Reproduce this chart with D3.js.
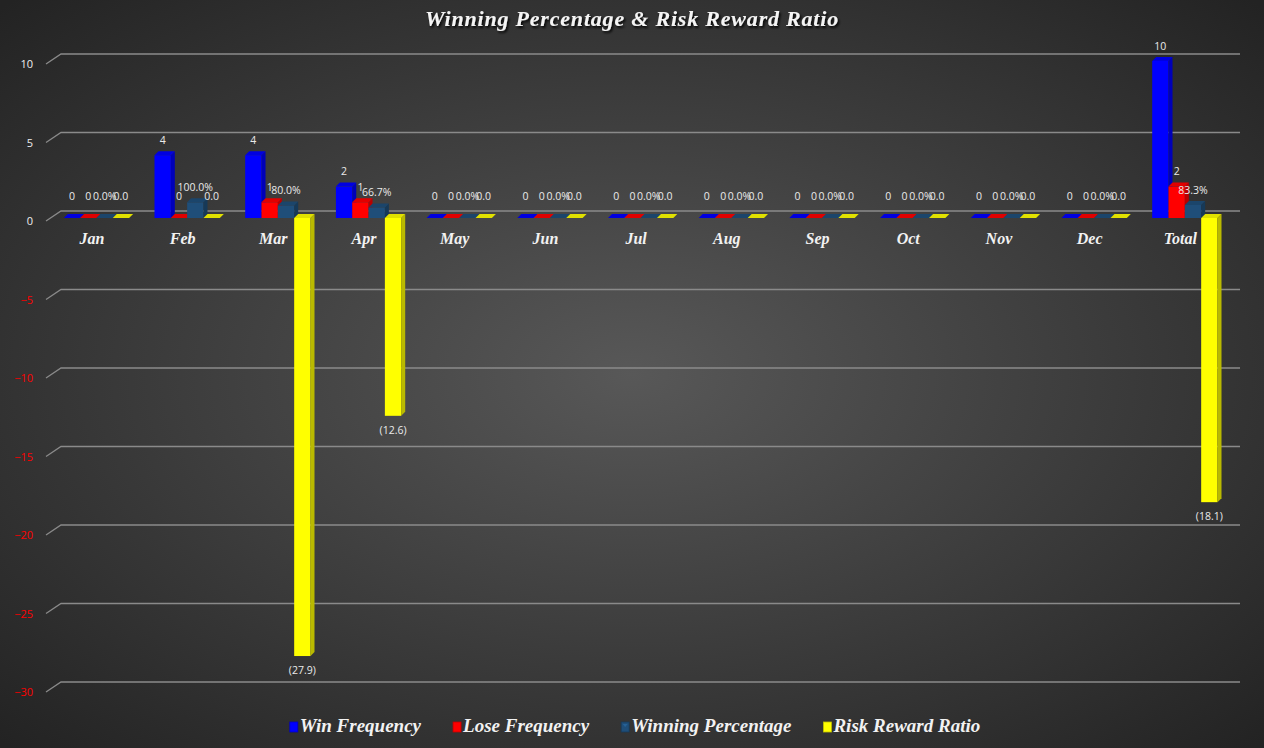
<!DOCTYPE html>
<html>
<head>
<meta charset="utf-8">
<script src="https://cdn.jsdelivr.net/npm/d3@7"></script>
<style>
  html, body { margin: 0; padding: 0; background: #2b2b2b; }
  svg { display: block; }
</style>
</head>
<body>
<div id="chart"></div>
<script>
// chart data
var categories = ["Jan", "Feb", "Mar", "Apr", "May", "Jun", "Jul", "Aug", "Sep", "Oct", "Nov", "Dec", "Total"];
var winFrequency = [0, 4, 4, 2, 0, 0, 0, 0, 0, 0, 0, 0, 10];
var loseFrequency = [0, 0, 1, 1, 0, 0, 0, 0, 0, 0, 0, 0, 2];
var winningPercentage = [0, 1.0, 0.8, 0.667, 0, 0, 0, 0, 0, 0, 0, 0, 0.833];
var riskRewardRatio = [0, 0, -27.9, -12.6, 0, 0, 0, 0, 0, 0, 0, 0, -18.1];
var seriesNames = ["Win Frequency", "Lose Frequency", "Winning Percentage", "Risk Reward Ratio"];
var yTicks = [-30, -25, -20, -15, -10, -5, 0, 5, 10];

var width = 1264, height = 748;

var series = [
    { name: seriesNames[0], values: winFrequency, color: "#0000ff", fmt: d3.format("d") },
    { name: seriesNames[1], values: loseFrequency, color: "#ff0000", fmt: d3.format("d") },
    { name: seriesNames[2], values: winningPercentage, color: "#1f4e79", fmt: d3.format(".1%") },
    { name: seriesNames[3], values: riskRewardRatio, color: "#ffff00",
      fmt: function (v) { return v < 0 ? "(" + Math.abs(v).toFixed(1) + ")" : v.toFixed(1); } }
];

var svg = d3.select("#chart").append("svg")
    .attr("width", width)
    .attr("height", height);

var defs = svg.append("defs");
var bg = defs.append("radialGradient")
    .attr("id", "bg")
    .attr("cx", "50%").attr("cy", "50%").attr("r", "70%");
bg.append("stop").attr("offset", "0%").attr("stop-color", "#585858");
bg.append("stop").attr("offset", "100%").attr("stop-color", "#232323");

var shadow = defs.append("filter").attr("id", "shadow")
    .attr("x", "-10%").attr("y", "-30%").attr("width", "120%").attr("height", "160%");
shadow.append("feDropShadow")
    .attr("dx", 1.5).attr("dy", 2).attr("stdDeviation", 1.2)
    .attr("flood-color", "#000").attr("flood-opacity", 0.9);

svg.append("rect")
    .attr("width", width)
    .attr("height", height)
    .attr("fill", "url(#bg)");

// 3d offsets
var floorDx = 15, floorDy = -10;   // front edge of floor -> back wall
var barDx = 4.5, barDy = -3;       // front edge of floor -> bar front face
var depthX = 4, depthY = -4;       // bar thickness

var x = d3.scaleBand()
    .domain(categories)
    .range([46.6, 1225.7])
    .paddingInner(0.28)
    .paddingOuter(0.14);

var x1 = d3.scaleBand()
    .domain(d3.range(series.length))
    .range([0, x.bandwidth()]);

// value scale on the floor front edge
var y = d3.scaleLinear()
    .domain([-30, 10])
    .range([221 + 30 * 15.7, 221 - 10 * 15.7]);

// gridlines on the back wall
svg.append("g")
    .selectAll("path")
    .data(yTicks)
    .join("path")
    .attr("fill", "none")
    .attr("stroke", "#8a8a8a")
    .attr("stroke-width", 1.3)
    .attr("d", function (t) {
        var yy = y(t);
        return "M46," + yy + "L" + (46 + floorDx) + "," + (yy + floorDy) + "L1240," + (yy + floorDy);
    });

// y axis labels
var yAxis = svg.append("g")
    .attr("transform", "translate(37,0)")
    .call(d3.axisLeft(y).tickValues(yTicks).tickSize(0).tickPadding(4));
yAxis.select(".domain").remove();
yAxis.selectAll("text")
    .attr("font-family", "'Open Sans', 'Liberation Sans', sans-serif")
    .attr("font-size", 11)
    .attr("fill", function (d) { return d < 0 ? "#ff0000" : "#eeeeee"; });

// bars
var barsG = svg.append("g");
var labelsG = svg.append("g");

categories.forEach(function (cat) {
    var ci = categories.indexOf(cat);
    series.forEach(function (s, si) {
        var v = s.values[ci];
        var bx = x(cat) + x1(si) + barDx;
        var w = x1.bandwidth();
        var y0 = y(0) + barDy;
        var yv = y(v) + barDy;
        var top = Math.min(y0, yv), bot = Math.max(y0, yv);
        var c = d3.color(s.color);
        var g = barsG.append("g");
        if (bot - top > 0.5) {
            g.append("rect")
                .attr("x", bx).attr("y", top)
                .attr("width", w).attr("height", bot - top)
                .attr("fill", s.color);
            g.append("path")
                .attr("fill", c.darker(0.9))
                .attr("d", "M" + (bx + w) + "," + top +
                    "L" + (bx + w + depthX) + "," + (top + depthY) +
                    "L" + (bx + w + depthX) + "," + (bot + depthY) +
                    "L" + (bx + w) + "," + bot + "Z");
        }
        g.append("path")
            .attr("fill", c.darker(0.35))
            .attr("d", "M" + bx + "," + top +
                "L" + (bx + depthX) + "," + (top + depthY) +
                "L" + (bx + w + depthX) + "," + (top + depthY) +
                "L" + (bx + w) + "," + top + "Z");

        var ly;
        if (v > 0) ly = top - 14;
        else if (v < 0) ly = bot + 15;
        else ly = top - 21;
        labelsG.append("text")
            .attr("x", bx + w / 2)
            .attr("y", ly)
            .attr("text-anchor", "middle")
            .attr("dominant-baseline", "middle")
            .attr("font-family", "'Open Sans', 'Liberation Sans', sans-serif")
            .attr("font-size", 10.5)
            .attr("fill", "#eaeaea")
            .text(s.fmt(v));
    });
});

// category labels
svg.append("g")
    .selectAll("text")
    .data(categories)
    .join("text")
    .attr("x", function (d) { return x(d) + x.bandwidth() / 2; })
    .attr("y", 240)
    .attr("text-anchor", "middle")
    .attr("dominant-baseline", "middle")
    .attr("font-family", "'Liberation Serif', 'DejaVu Serif', serif")
    .attr("font-weight", "bold")
    .attr("font-style", "italic")
    .attr("font-size", 16)
    .attr("fill", "#f2f2f2")
    .text(function (d) { return d; });

// title
svg.append("text")
    .attr("x", 632)
    .attr("y", 21)
    .attr("text-anchor", "middle")
    .attr("dominant-baseline", "middle")
    .attr("font-family", "'Liberation Serif', 'DejaVu Serif', serif")
    .attr("font-weight", "bold")
    .attr("font-style", "italic")
    .attr("font-size", 22)
    .attr("letter-spacing", 0.8)
    .attr("fill", "#f5f5f5")
    .attr("filter", "url(#shadow)")
    .text("Winning Percentage & Risk Reward Ratio");

// legend
var legend = svg.append("g");
var lx = 0;
series.forEach(function (s) {
    var item = legend.append("g").attr("transform", "translate(" + lx + ",0)");
    var c = d3.color(s.color);
    item.append("rect")
        .attr("x", 0).attr("y", -10)
        .attr("width", 8).attr("height", 10)
        .attr("fill", s.color)
        .attr("stroke", c.darker(0.8))
        .attr("stroke-width", 0.8);
    item.append("path")
        .attr("fill", c.brighter(0.6))
        .attr("d", "M1.5,-8L6.5,-8L4,-5Z");
    var t = item.append("text")
        .attr("x", 10)
        .attr("y", 0)
        .attr("font-family", "'Liberation Serif', 'DejaVu Serif', serif")
        .attr("font-weight", "bold")
        .attr("font-style", "italic")
        .attr("font-size", 19)
        .attr("fill", "#f2f2f2")
        .text(s.name);
    lx += 10 + t.node().getComputedTextLength() + 32;
});
var legendWidth = lx - 32;
legend.attr("transform", "translate(" + (635 - legendWidth / 2) + ",732)");
</script>
</body>
</html>
